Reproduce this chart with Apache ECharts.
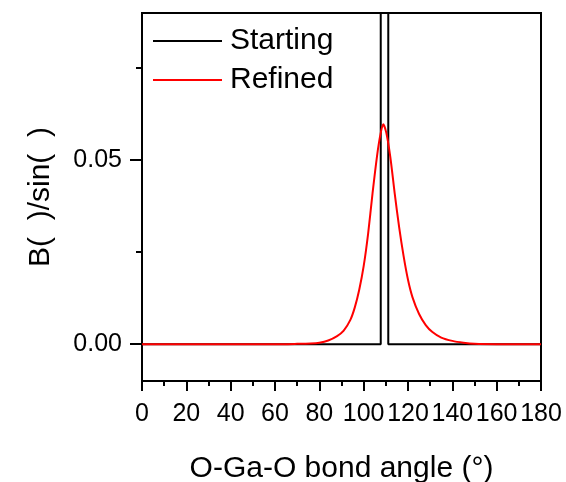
<!DOCTYPE html>
<html>
<head>
<meta charset="utf-8">
<script src="https://cdn.jsdelivr.net/npm/echarts@6/dist/echarts.min.js"></script>
<style>
  html, body { margin: 0; padding: 0; background: #fff; }
  #chart { width: 566px; height: 482px; }
</style>
</head>
<body>
<div id="chart"></div>
<script>
// Bond-angle distribution for O-Ga-O: starting model (narrow box) vs refined model
const startingAngles = [0, 107.7, 107.7, 111.1, 111.1, 180];
const startingValues = [0, 0, 0.5, 0.5, 0, 0];

const refinedAngles = [0, 60, 70, 76, 80, 84, 88, 91, 94, 96, 98, 100, 102, 104, 106, 107.5,
  108.8, 110.2, 112, 114, 116, 118, 120, 122, 125, 128, 131, 135, 140, 145, 150, 160, 180];
const refinedValues = [0, 0, 0.0001, 0.0002, 0.0004, 0.0010, 0.0022, 0.0037, 0.0066, 0.0100,
  0.0148, 0.0212, 0.0300, 0.0410, 0.0510, 0.0568, 0.0598, 0.0575, 0.0510, 0.0410, 0.0318,
  0.0240, 0.0175, 0.0128, 0.0082, 0.0052, 0.0033, 0.0018, 0.0009, 0.0004, 0.0001, 0, 0];

const xTicks = [0, 20, 40, 60, 80, 100, 120, 140, 160, 180];
const yMajorTicks = [0, 0.05];
const yMinorTicks = [0.025, 0.075];

const pairs = (xs, ys) => xs.map((x, i) => [x, ys[i]]);

const FONT = 'Liberation Sans, Arial, sans-serif';
const chart = echarts.init(document.getElementById('chart'));

chart.setOption({
  animation: false,
  grid: {
    left: 142, right: 25, top: 13, bottom: 101,
    outerBoundsMode: 'none',
    show: true, borderColor: '#000', borderWidth: 2, backgroundColor: 'transparent'
  },
  legend: {
    orient: 'vertical',
    left: 148, top: 21,
    icon: 'rect',
    itemWidth: 69, itemHeight: 2, itemGap: 9,
    textStyle: { fontFamily: FONT, fontSize: 30, color: '#000', padding: [0, 0, 0, 3] },
    data: ['Starting', 'Refined']
  },
  xAxis: {
    type: 'value', min: 0, max: 180, interval: 20,
    axisLine: { show: true, onZero: false, lineStyle: { color: '#000', width: 2 } },
    axisTick: { show: true, length: 10, lineStyle: { color: '#000', width: 2 }, customValues: xTicks },
    minorTick: { show: true, splitNumber: 2, length: 5, lineStyle: { color: '#000', width: 2 } },
    axisLabel: { fontFamily: FONT, fontSize: 25, color: '#000', margin: 21, customValues: xTicks },
    splitLine: { show: false },
    name: 'O-Ga-O bond angle (°)',
    nameLocation: 'middle', nameGap: 73,
    nameTextStyle: { fontFamily: FONT, fontSize: 30, color: '#000' }
  },
  yAxis: [{
    type: 'value', min: -0.01, max: 0.09,
    axisLine: { show: true, onZero: false, lineStyle: { color: '#000', width: 2 } },
    axisTick: { show: true, length: 12, lineStyle: { color: '#000', width: 2 }, customValues: yMajorTicks },
    axisLabel: {
      fontFamily: FONT, fontSize: 25, color: '#000', margin: 20,
      customValues: yMajorTicks, formatter: v => v.toFixed(2)
    },
    splitLine: { show: false },
    name: 'B(  )/sin(  )',
    nameLocation: 'middle', nameGap: 86, nameRotate: 90,
    nameTextStyle: { fontFamily: FONT, fontSize: 30, color: '#000' }
  }, {
    type: 'value', min: -0.01, max: 0.09, position: 'left',
    axisLine: { show: false },
    axisTick: { show: true, length: 6, lineStyle: { color: '#000', width: 2 }, customValues: yMinorTicks },
    axisLabel: { show: false },
    splitLine: { show: false }
  }],
  series: [{
    name: 'Starting', type: 'line', symbol: 'none',
    lineStyle: { color: '#000', width: 2 }, itemStyle: { color: '#000' },
    data: pairs(startingAngles, startingValues)
  }, {
    name: 'Refined', type: 'line', symbol: 'none', smooth: 0.25,
    lineStyle: { color: '#f00', width: 2 }, itemStyle: { color: '#f00' },
    data: pairs(refinedAngles, refinedValues)
  }]
});
</script>
</body>
</html>
